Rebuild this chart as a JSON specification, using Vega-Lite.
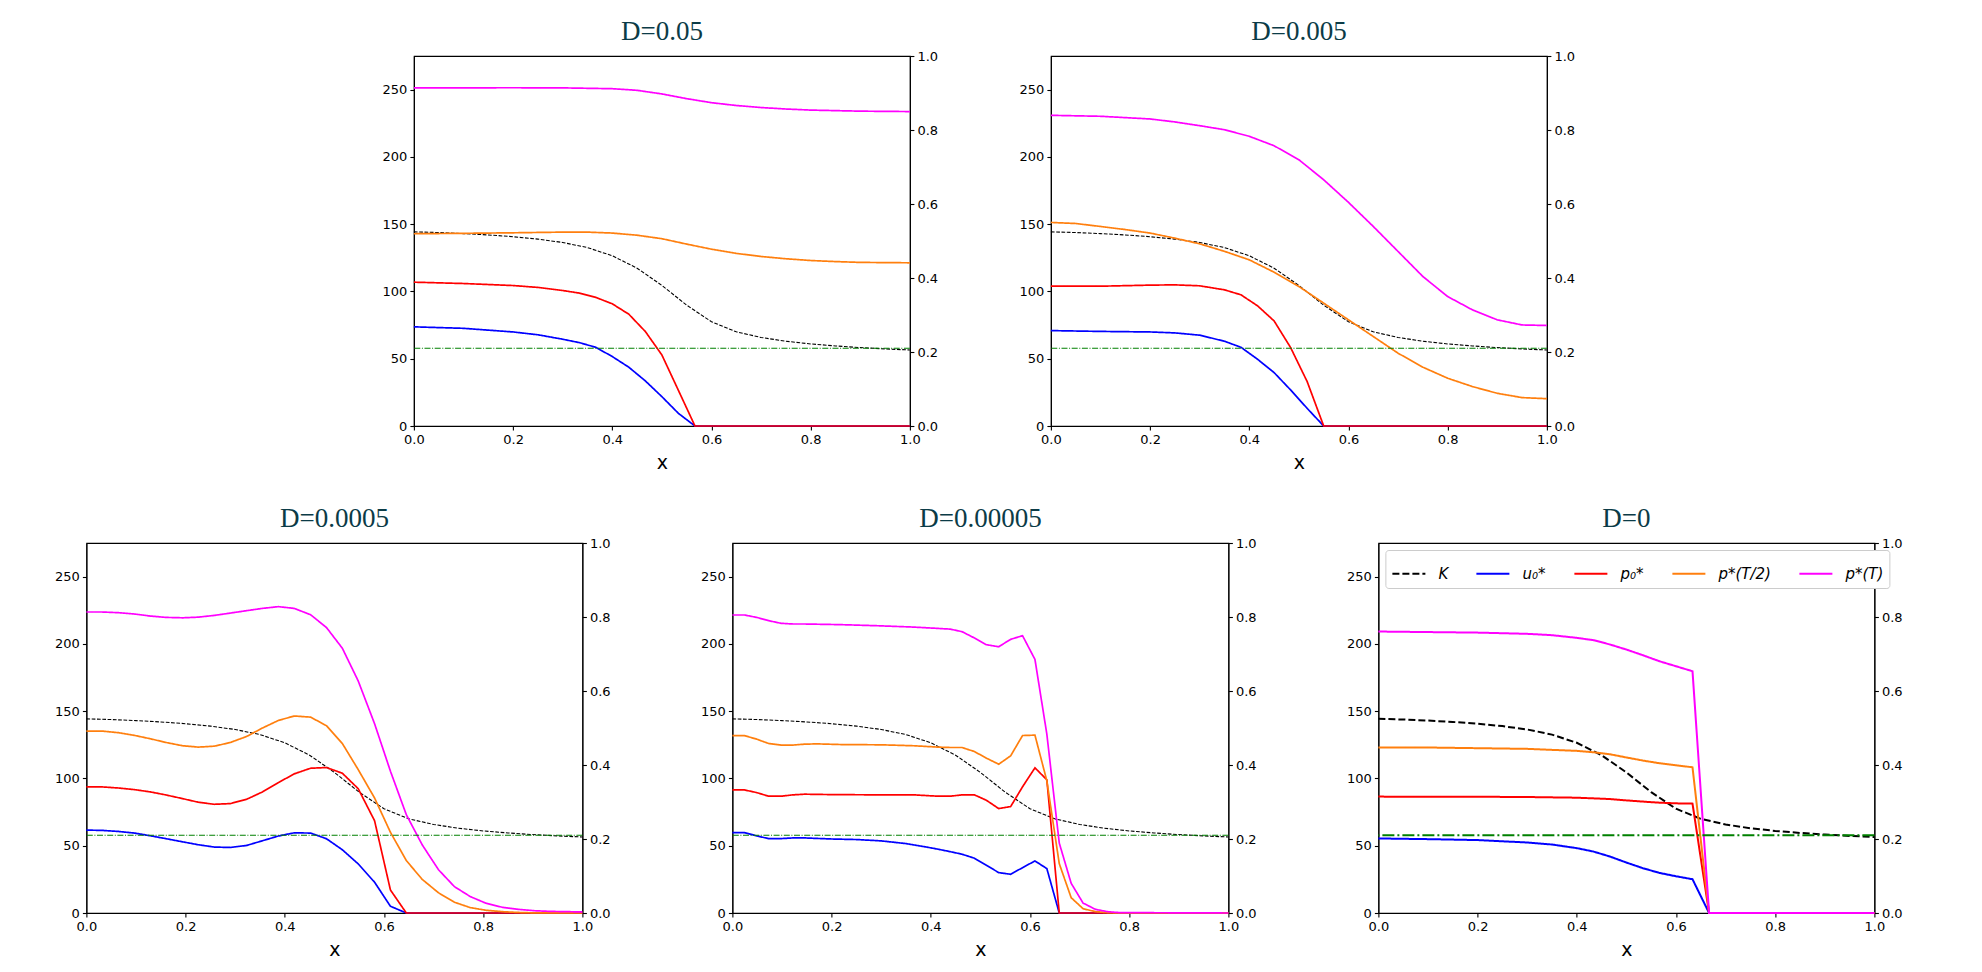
{
  "$schema": "https://vega.github.io/schema/vega-lite/v6.json",
  "background": "white",
  "padding": {"left": 54, "top": 17, "right": 5, "bottom": 5},
  "config": {
    "font": "DejaVu Sans",
    "view": {"stroke": "black", "strokeWidth": 1.1},
    "axis": {
      "grid": false, "domainColor": "black", "domainWidth": 1.1, "tickColor": "black", "tickWidth": 1.1,
      "tickSize": 4, "labelColor": "black", "labelFont": "DejaVu Sans", "labelFontSize": 13, "labelPadding": 3,
      "labelOverlap": false, "labelFlush": false, "titleFont": "DejaVu Sans", "titleFontSize": 19,
      "titleFontWeight": "normal", "titleColor": "black", "titlePadding": 7
    },
    "title": {"font": "Liberation Serif", "fontSize": 27, "fontWeight": "normal", "color": "#0b3b47", "offset": 4},
    "legend": {
      "orient": "top-left", "direction": "horizontal", "columns": 5, "symbolType": "stroke", "symbolSize": 1089,
      "symbolStrokeWidth": 2, "labelFont": "DejaVu Sans", "labelFontStyle": "italic", "labelFontSize": 15,
      "labelColor": "black", "labelOffset": 12, "columnPadding": 24, "padding": 6, "offset": 7,
      "strokeColor": "#cccccc", "fillColor": "white", "cornerRadius": 3
    }
  },
  "datasets": {
    "g": [{"v": 0.21}],
    "k": [
      {"s": "K", "x": 0, "y": 144.3}, {"s": "K", "x": 0.05, "y": 143.8}, {"s": "K", "x": 0.1, "y": 143.0},
      {"s": "K", "x": 0.15, "y": 142.0}, {"s": "K", "x": 0.2, "y": 140.7}, {"s": "K", "x": 0.25, "y": 138.9},
      {"s": "K", "x": 0.3, "y": 136.4}, {"s": "K", "x": 0.35, "y": 132.6}, {"s": "K", "x": 0.4, "y": 126.5},
      {"s": "K", "x": 0.45, "y": 117.3}, {"s": "K", "x": 0.5, "y": 104.5}, {"s": "K", "x": 0.55, "y": 89.8},
      {"s": "K", "x": 0.6, "y": 77.5}, {"s": "K", "x": 0.65, "y": 70.0}, {"s": "K", "x": 0.7, "y": 65.8},
      {"s": "K", "x": 0.75, "y": 63.0}, {"s": "K", "x": 0.8, "y": 61.0}, {"s": "K", "x": 0.85, "y": 59.5},
      {"s": "K", "x": 0.9, "y": 58.3}, {"s": "K", "x": 0.95, "y": 57.3}, {"s": "K", "x": 1.0, "y": 56.5}
    ],
    "c": [
      {"d": "D=0.05", "s": "u₀*", "x": 0, "y": 73.7}, {"d": "D=0.05", "s": "u₀*", "x": 0.1, "y": 72.6},
      {"d": "D=0.05", "s": "u₀*", "x": 0.2, "y": 69.9}, {"d": "D=0.05", "s": "u₀*", "x": 0.25, "y": 67.8},
      {"d": "D=0.05", "s": "u₀*", "x": 0.3, "y": 64.5}, {"d": "D=0.05", "s": "u₀*", "x": 0.3333, "y": 62.0},
      {"d": "D=0.05", "s": "u₀*", "x": 0.3667, "y": 58.5}, {"d": "D=0.05", "s": "u₀*", "x": 0.4, "y": 51.6},
      {"d": "D=0.05", "s": "u₀*", "x": 0.4333, "y": 43.7}, {"d": "D=0.05", "s": "u₀*", "x": 0.4667, "y": 33.5},
      {"d": "D=0.05", "s": "u₀*", "x": 0.5, "y": 21.8}, {"d": "D=0.05", "s": "u₀*", "x": 0.5333, "y": 9.4},
      {"d": "D=0.05", "s": "u₀*", "x": 0.5667, "y": 0}, {"d": "D=0.05", "s": "u₀*", "x": 1, "y": 0},
      {"d": "D=0.05", "s": "p₀*", "x": 0, "y": 106.9}, {"d": "D=0.05", "s": "p₀*", "x": 0.1, "y": 105.9},
      {"d": "D=0.05", "s": "p₀*", "x": 0.2, "y": 104.4}, {"d": "D=0.05", "s": "p₀*", "x": 0.25, "y": 103.0},
      {"d": "D=0.05", "s": "p₀*", "x": 0.3, "y": 100.7}, {"d": "D=0.05", "s": "p₀*", "x": 0.3333, "y": 98.8},
      {"d": "D=0.05", "s": "p₀*", "x": 0.3667, "y": 95.6}, {"d": "D=0.05", "s": "p₀*", "x": 0.4, "y": 90.8},
      {"d": "D=0.05", "s": "p₀*", "x": 0.4333, "y": 83.1}, {"d": "D=0.05", "s": "p₀*", "x": 0.4667, "y": 70.2},
      {"d": "D=0.05", "s": "p₀*", "x": 0.5, "y": 52.8}, {"d": "D=0.05", "s": "p₀*", "x": 0.5333, "y": 26.5},
      {"d": "D=0.05", "s": "p₀*", "x": 0.5667, "y": 0}, {"d": "D=0.05", "s": "p₀*", "x": 1, "y": 0},
      {"d": "D=0.05", "s": "p*(T/2)", "x": 0, "y": 142.9}, {"d": "D=0.05", "s": "p*(T/2)", "x": 0.1, "y": 143.2},
      {"d": "D=0.05", "s": "p*(T/2)", "x": 0.2, "y": 143.6}, {"d": "D=0.05", "s": "p*(T/2)", "x": 0.3, "y": 144.1},
      {"d": "D=0.05", "s": "p*(T/2)", "x": 0.35, "y": 144.1}, {"d": "D=0.05", "s": "p*(T/2)", "x": 0.4, "y": 143.4},
      {"d": "D=0.05", "s": "p*(T/2)", "x": 0.45, "y": 141.8}, {"d": "D=0.05", "s": "p*(T/2)", "x": 0.5, "y": 139.2},
      {"d": "D=0.05", "s": "p*(T/2)", "x": 0.55, "y": 135.2}, {"d": "D=0.05", "s": "p*(T/2)", "x": 0.6, "y": 131.4},
      {"d": "D=0.05", "s": "p*(T/2)", "x": 0.65, "y": 128.3}, {"d": "D=0.05", "s": "p*(T/2)", "x": 0.7, "y": 126.0},
      {"d": "D=0.05", "s": "p*(T/2)", "x": 0.75, "y": 124.3}, {"d": "D=0.05", "s": "p*(T/2)", "x": 0.8, "y": 123.0},
      {"d": "D=0.05", "s": "p*(T/2)", "x": 0.85, "y": 122.2}, {"d": "D=0.05", "s": "p*(T/2)", "x": 0.9, "y": 121.6},
      {"d": "D=0.05", "s": "p*(T/2)", "x": 1, "y": 121.3},
      {"d": "D=0.05", "s": "p*(T)", "x": 0, "y": 251.3}, {"d": "D=0.05", "s": "p*(T)", "x": 0.2, "y": 251.4},
      {"d": "D=0.05", "s": "p*(T)", "x": 0.3, "y": 251.3}, {"d": "D=0.05", "s": "p*(T)", "x": 0.4, "y": 250.7},
      {"d": "D=0.05", "s": "p*(T)", "x": 0.45, "y": 249.5}, {"d": "D=0.05", "s": "p*(T)", "x": 0.5, "y": 246.8},
      {"d": "D=0.05", "s": "p*(T)", "x": 0.55, "y": 243.3}, {"d": "D=0.05", "s": "p*(T)", "x": 0.6, "y": 240.3},
      {"d": "D=0.05", "s": "p*(T)", "x": 0.65, "y": 238.2}, {"d": "D=0.05", "s": "p*(T)", "x": 0.7, "y": 236.7},
      {"d": "D=0.05", "s": "p*(T)", "x": 0.75, "y": 235.6}, {"d": "D=0.05", "s": "p*(T)", "x": 0.8, "y": 234.8},
      {"d": "D=0.05", "s": "p*(T)", "x": 0.9, "y": 234.0}, {"d": "D=0.05", "s": "p*(T)", "x": 1, "y": 233.7},

      {"d": "D=0.005", "s": "u₀*", "x": 0, "y": 70.9}, {"d": "D=0.005", "s": "u₀*", "x": 0.1, "y": 70.3},
      {"d": "D=0.005", "s": "u₀*", "x": 0.2, "y": 69.9}, {"d": "D=0.005", "s": "u₀*", "x": 0.25, "y": 69.2},
      {"d": "D=0.005", "s": "u₀*", "x": 0.3, "y": 67.5}, {"d": "D=0.005", "s": "u₀*", "x": 0.35, "y": 63.0},
      {"d": "D=0.005", "s": "u₀*", "x": 0.3833, "y": 58.5}, {"d": "D=0.005", "s": "u₀*", "x": 0.4167, "y": 49.6},
      {"d": "D=0.005", "s": "u₀*", "x": 0.45, "y": 39.7}, {"d": "D=0.005", "s": "u₀*", "x": 0.4833, "y": 26.8},
      {"d": "D=0.005", "s": "u₀*", "x": 0.5167, "y": 13.1}, {"d": "D=0.005", "s": "u₀*", "x": 0.55, "y": 0},
      {"d": "D=0.005", "s": "u₀*", "x": 1, "y": 0},
      {"d": "D=0.005", "s": "p₀*", "x": 0, "y": 103.9}, {"d": "D=0.005", "s": "p₀*", "x": 0.1, "y": 103.9},
      {"d": "D=0.005", "s": "p₀*", "x": 0.2, "y": 104.7}, {"d": "D=0.005", "s": "p₀*", "x": 0.25, "y": 104.9},
      {"d": "D=0.005", "s": "p₀*", "x": 0.3, "y": 104.2}, {"d": "D=0.005", "s": "p₀*", "x": 0.35, "y": 101.2},
      {"d": "D=0.005", "s": "p₀*", "x": 0.3833, "y": 97.5}, {"d": "D=0.005", "s": "p₀*", "x": 0.4167, "y": 89.3},
      {"d": "D=0.005", "s": "p₀*", "x": 0.45, "y": 78.1}, {"d": "D=0.005", "s": "p₀*", "x": 0.4833, "y": 58.3},
      {"d": "D=0.005", "s": "p₀*", "x": 0.5167, "y": 33.0}, {"d": "D=0.005", "s": "p₀*", "x": 0.55, "y": 0},
      {"d": "D=0.005", "s": "p₀*", "x": 1, "y": 0},
      {"d": "D=0.005", "s": "p*(T/2)", "x": 0, "y": 151.3}, {"d": "D=0.005", "s": "p*(T/2)", "x": 0.05, "y": 150.5},
      {"d": "D=0.005", "s": "p*(T/2)", "x": 0.1, "y": 148.3}, {"d": "D=0.005", "s": "p*(T/2)", "x": 0.15, "y": 146.0},
      {"d": "D=0.005", "s": "p*(T/2)", "x": 0.2, "y": 143.4}, {"d": "D=0.005", "s": "p*(T/2)", "x": 0.25, "y": 139.6},
      {"d": "D=0.005", "s": "p*(T/2)", "x": 0.3, "y": 135.4}, {"d": "D=0.005", "s": "p*(T/2)", "x": 0.35, "y": 129.8},
      {"d": "D=0.005", "s": "p*(T/2)", "x": 0.4, "y": 123.5}, {"d": "D=0.005", "s": "p*(T/2)", "x": 0.45, "y": 114.3},
      {"d": "D=0.005", "s": "p*(T/2)", "x": 0.5, "y": 103.7}, {"d": "D=0.005", "s": "p*(T/2)", "x": 0.55, "y": 91.3},
      {"d": "D=0.005", "s": "p*(T/2)", "x": 0.6, "y": 78.9}, {"d": "D=0.005", "s": "p*(T/2)", "x": 0.65, "y": 66.5},
      {"d": "D=0.005", "s": "p*(T/2)", "x": 0.7, "y": 54.1}, {"d": "D=0.005", "s": "p*(T/2)", "x": 0.75, "y": 43.7},
      {"d": "D=0.005", "s": "p*(T/2)", "x": 0.8, "y": 35.5}, {"d": "D=0.005", "s": "p*(T/2)", "x": 0.85, "y": 29.3},
      {"d": "D=0.005", "s": "p*(T/2)", "x": 0.9, "y": 24.3}, {"d": "D=0.005", "s": "p*(T/2)", "x": 0.95, "y": 21.1},
      {"d": "D=0.005", "s": "p*(T/2)", "x": 1, "y": 20.3},
      {"d": "D=0.005", "s": "p*(T)", "x": 0, "y": 230.9}, {"d": "D=0.005", "s": "p*(T)", "x": 0.1, "y": 230.2},
      {"d": "D=0.005", "s": "p*(T)", "x": 0.2, "y": 228.2}, {"d": "D=0.005", "s": "p*(T)", "x": 0.25, "y": 226.0},
      {"d": "D=0.005", "s": "p*(T)", "x": 0.3, "y": 223.2}, {"d": "D=0.005", "s": "p*(T)", "x": 0.35, "y": 220.2},
      {"d": "D=0.005", "s": "p*(T)", "x": 0.4, "y": 215.3}, {"d": "D=0.005", "s": "p*(T)", "x": 0.45, "y": 208.3},
      {"d": "D=0.005", "s": "p*(T)", "x": 0.5, "y": 197.9}, {"d": "D=0.005", "s": "p*(T)", "x": 0.55, "y": 183.0},
      {"d": "D=0.005", "s": "p*(T)", "x": 0.6, "y": 166.2}, {"d": "D=0.005", "s": "p*(T)", "x": 0.65, "y": 148.3},
      {"d": "D=0.005", "s": "p*(T)", "x": 0.7, "y": 129.7}, {"d": "D=0.005", "s": "p*(T)", "x": 0.75, "y": 111.1},
      {"d": "D=0.005", "s": "p*(T)", "x": 0.8, "y": 96.2}, {"d": "D=0.005", "s": "p*(T)", "x": 0.85, "y": 86.3},
      {"d": "D=0.005", "s": "p*(T)", "x": 0.9, "y": 78.9}, {"d": "D=0.005", "s": "p*(T)", "x": 0.95, "y": 75.1},
      {"d": "D=0.005", "s": "p*(T)", "x": 1, "y": 74.7},

      {"d": "D=0.0005", "s": "u₀*", "x": 0, "y": 61.6}, {"d": "D=0.0005", "s": "u₀*", "x": 0.032, "y": 61.4},
      {"d": "D=0.0005", "s": "u₀*", "x": 0.065, "y": 60.6}, {"d": "D=0.0005", "s": "u₀*", "x": 0.097, "y": 59.4},
      {"d": "D=0.0005", "s": "u₀*", "x": 0.129, "y": 57.4}, {"d": "D=0.0005", "s": "u₀*", "x": 0.161, "y": 55.2},
      {"d": "D=0.0005", "s": "u₀*", "x": 0.194, "y": 52.9}, {"d": "D=0.0005", "s": "u₀*", "x": 0.226, "y": 50.7},
      {"d": "D=0.0005", "s": "u₀*", "x": 0.258, "y": 49.0}, {"d": "D=0.0005", "s": "u₀*", "x": 0.29, "y": 48.7},
      {"d": "D=0.0005", "s": "u₀*", "x": 0.323, "y": 50.2}, {"d": "D=0.0005", "s": "u₀*", "x": 0.355, "y": 53.7},
      {"d": "D=0.0005", "s": "u₀*", "x": 0.387, "y": 57.2}, {"d": "D=0.0005", "s": "u₀*", "x": 0.419, "y": 59.6},
      {"d": "D=0.0005", "s": "u₀*", "x": 0.452, "y": 59.4}, {"d": "D=0.0005", "s": "u₀*", "x": 0.484, "y": 55.2},
      {"d": "D=0.0005", "s": "u₀*", "x": 0.516, "y": 47.0}, {"d": "D=0.0005", "s": "u₀*", "x": 0.548, "y": 36.5},
      {"d": "D=0.0005", "s": "u₀*", "x": 0.581, "y": 22.9}, {"d": "D=0.0005", "s": "u₀*", "x": 0.613, "y": 5.0},
      {"d": "D=0.0005", "s": "u₀*", "x": 0.645, "y": 0}, {"d": "D=0.0005", "s": "u₀*", "x": 1, "y": 0},
      {"d": "D=0.0005", "s": "p₀*", "x": 0, "y": 93.7}, {"d": "D=0.0005", "s": "p₀*", "x": 0.032, "y": 93.7},
      {"d": "D=0.0005", "s": "p₀*", "x": 0.065, "y": 92.9}, {"d": "D=0.0005", "s": "p₀*", "x": 0.097, "y": 91.7},
      {"d": "D=0.0005", "s": "p₀*", "x": 0.129, "y": 90.0}, {"d": "D=0.0005", "s": "p₀*", "x": 0.161, "y": 87.7},
      {"d": "D=0.0005", "s": "p₀*", "x": 0.194, "y": 85.0}, {"d": "D=0.0005", "s": "p₀*", "x": 0.226, "y": 82.3},
      {"d": "D=0.0005", "s": "p₀*", "x": 0.258, "y": 80.8}, {"d": "D=0.0005", "s": "p₀*", "x": 0.29, "y": 81.3},
      {"d": "D=0.0005", "s": "p₀*", "x": 0.323, "y": 84.5}, {"d": "D=0.0005", "s": "p₀*", "x": 0.355, "y": 90.0},
      {"d": "D=0.0005", "s": "p₀*", "x": 0.387, "y": 96.9}, {"d": "D=0.0005", "s": "p₀*", "x": 0.419, "y": 103.4},
      {"d": "D=0.0005", "s": "p₀*", "x": 0.452, "y": 107.6}, {"d": "D=0.0005", "s": "p₀*", "x": 0.484, "y": 108.1},
      {"d": "D=0.0005", "s": "p₀*", "x": 0.516, "y": 103.9}, {"d": "D=0.0005", "s": "p₀*", "x": 0.548, "y": 92.4},
      {"d": "D=0.0005", "s": "p₀*", "x": 0.581, "y": 68.6}, {"d": "D=0.0005", "s": "p₀*", "x": 0.613, "y": 17.1},
      {"d": "D=0.0005", "s": "p₀*", "x": 0.645, "y": 0}, {"d": "D=0.0005", "s": "p₀*", "x": 1, "y": 0},
      {"d": "D=0.0005", "s": "p*(T/2)", "x": 0, "y": 135.2}, {"d": "D=0.0005", "s": "p*(T/2)", "x": 0.032, "y": 135.2},
      {"d": "D=0.0005", "s": "p*(T/2)", "x": 0.065, "y": 134.0}, {"d": "D=0.0005", "s": "p*(T/2)", "x": 0.097, "y": 132.0},
      {"d": "D=0.0005", "s": "p*(T/2)", "x": 0.129, "y": 129.5}, {"d": "D=0.0005", "s": "p*(T/2)", "x": 0.161, "y": 126.7},
      {"d": "D=0.0005", "s": "p*(T/2)", "x": 0.194, "y": 124.3}, {"d": "D=0.0005", "s": "p*(T/2)", "x": 0.226, "y": 123.3},
      {"d": "D=0.0005", "s": "p*(T/2)", "x": 0.258, "y": 124.0}, {"d": "D=0.0005", "s": "p*(T/2)", "x": 0.29, "y": 126.7},
      {"d": "D=0.0005", "s": "p*(T/2)", "x": 0.323, "y": 131.2}, {"d": "D=0.0005", "s": "p*(T/2)", "x": 0.355, "y": 137.5},
      {"d": "D=0.0005", "s": "p*(T/2)", "x": 0.387, "y": 143.1}, {"d": "D=0.0005", "s": "p*(T/2)", "x": 0.419, "y": 146.4},
      {"d": "D=0.0005", "s": "p*(T/2)", "x": 0.452, "y": 145.6}, {"d": "D=0.0005", "s": "p*(T/2)", "x": 0.484, "y": 139.2},
      {"d": "D=0.0005", "s": "p*(T/2)", "x": 0.516, "y": 126.0}, {"d": "D=0.0005", "s": "p*(T/2)", "x": 0.548, "y": 106.6},
      {"d": "D=0.0005", "s": "p*(T/2)", "x": 0.581, "y": 85.5}, {"d": "D=0.0005", "s": "p*(T/2)", "x": 0.613, "y": 60.0},
      {"d": "D=0.0005", "s": "p*(T/2)", "x": 0.645, "y": 39.0}, {"d": "D=0.0005", "s": "p*(T/2)", "x": 0.677, "y": 25.0},
      {"d": "D=0.0005", "s": "p*(T/2)", "x": 0.71, "y": 15.0}, {"d": "D=0.0005", "s": "p*(T/2)", "x": 0.742, "y": 8.0},
      {"d": "D=0.0005", "s": "p*(T/2)", "x": 0.774, "y": 4.0}, {"d": "D=0.0005", "s": "p*(T/2)", "x": 0.806, "y": 2.0},
      {"d": "D=0.0005", "s": "p*(T/2)", "x": 0.839, "y": 1.0}, {"d": "D=0.0005", "s": "p*(T/2)", "x": 0.871, "y": 0.4},
      {"d": "D=0.0005", "s": "p*(T/2)", "x": 0.903, "y": 0.1}, {"d": "D=0.0005", "s": "p*(T/2)", "x": 1, "y": 0},
      {"d": "D=0.0005", "s": "p*(T)", "x": 0, "y": 223.7}, {"d": "D=0.0005", "s": "p*(T)", "x": 0.032, "y": 223.7},
      {"d": "D=0.0005", "s": "p*(T)", "x": 0.065, "y": 223.2}, {"d": "D=0.0005", "s": "p*(T)", "x": 0.097, "y": 222.2},
      {"d": "D=0.0005", "s": "p*(T)", "x": 0.129, "y": 220.7}, {"d": "D=0.0005", "s": "p*(T)", "x": 0.161, "y": 219.7},
      {"d": "D=0.0005", "s": "p*(T)", "x": 0.194, "y": 219.4}, {"d": "D=0.0005", "s": "p*(T)", "x": 0.226, "y": 219.9},
      {"d": "D=0.0005", "s": "p*(T)", "x": 0.258, "y": 221.2}, {"d": "D=0.0005", "s": "p*(T)", "x": 0.29, "y": 222.9},
      {"d": "D=0.0005", "s": "p*(T)", "x": 0.323, "y": 224.7}, {"d": "D=0.0005", "s": "p*(T)", "x": 0.355, "y": 226.4},
      {"d": "D=0.0005", "s": "p*(T)", "x": 0.387, "y": 227.7}, {"d": "D=0.0005", "s": "p*(T)", "x": 0.419, "y": 226.4},
      {"d": "D=0.0005", "s": "p*(T)", "x": 0.452, "y": 221.7}, {"d": "D=0.0005", "s": "p*(T)", "x": 0.484, "y": 212.2},
      {"d": "D=0.0005", "s": "p*(T)", "x": 0.516, "y": 196.8}, {"d": "D=0.0005", "s": "p*(T)", "x": 0.548, "y": 172.5},
      {"d": "D=0.0005", "s": "p*(T)", "x": 0.581, "y": 140.7}, {"d": "D=0.0005", "s": "p*(T)", "x": 0.613, "y": 105.4},
      {"d": "D=0.0005", "s": "p*(T)", "x": 0.645, "y": 73.1}, {"d": "D=0.0005", "s": "p*(T)", "x": 0.677, "y": 50.7},
      {"d": "D=0.0005", "s": "p*(T)", "x": 0.71, "y": 32.1}, {"d": "D=0.0005", "s": "p*(T)", "x": 0.742, "y": 19.6},
      {"d": "D=0.0005", "s": "p*(T)", "x": 0.774, "y": 12.2}, {"d": "D=0.0005", "s": "p*(T)", "x": 0.806, "y": 7.2},
      {"d": "D=0.0005", "s": "p*(T)", "x": 0.839, "y": 4.2}, {"d": "D=0.0005", "s": "p*(T)", "x": 0.871, "y": 2.7},
      {"d": "D=0.0005", "s": "p*(T)", "x": 0.903, "y": 1.7}, {"d": "D=0.0005", "s": "p*(T)", "x": 0.935, "y": 1.2},
      {"d": "D=0.0005", "s": "p*(T)", "x": 0.968, "y": 1.0}, {"d": "D=0.0005", "s": "p*(T)", "x": 1, "y": 0.8},

      {"d": "D=0.00005", "s": "u₀*", "x": 0, "y": 59.8}, {"d": "D=0.00005", "s": "u₀*", "x": 0.024, "y": 59.8},
      {"d": "D=0.00005", "s": "u₀*", "x": 0.049, "y": 57.3}, {"d": "D=0.00005", "s": "u₀*", "x": 0.073, "y": 55.3},
      {"d": "D=0.00005", "s": "u₀*", "x": 0.098, "y": 55.3}, {"d": "D=0.00005", "s": "u₀*", "x": 0.122, "y": 55.8},
      {"d": "D=0.00005", "s": "u₀*", "x": 0.146, "y": 55.8}, {"d": "D=0.00005", "s": "u₀*", "x": 0.2, "y": 55.0},
      {"d": "D=0.00005", "s": "u₀*", "x": 0.25, "y": 54.6}, {"d": "D=0.00005", "s": "u₀*", "x": 0.3, "y": 53.6},
      {"d": "D=0.00005", "s": "u₀*", "x": 0.35, "y": 51.6}, {"d": "D=0.00005", "s": "u₀*", "x": 0.39, "y": 49.1},
      {"d": "D=0.00005", "s": "u₀*", "x": 0.415, "y": 47.4}, {"d": "D=0.00005", "s": "u₀*", "x": 0.439, "y": 45.6},
      {"d": "D=0.00005", "s": "u₀*", "x": 0.463, "y": 43.7}, {"d": "D=0.00005", "s": "u₀*", "x": 0.488, "y": 40.7},
      {"d": "D=0.00005", "s": "u₀*", "x": 0.512, "y": 35.5}, {"d": "D=0.00005", "s": "u₀*", "x": 0.537, "y": 30.0},
      {"d": "D=0.00005", "s": "u₀*", "x": 0.561, "y": 28.8}, {"d": "D=0.00005", "s": "u₀*", "x": 0.585, "y": 33.7},
      {"d": "D=0.00005", "s": "u₀*", "x": 0.61, "y": 38.7}, {"d": "D=0.00005", "s": "u₀*", "x": 0.634, "y": 33.0},
      {"d": "D=0.00005", "s": "u₀*", "x": 0.659, "y": 0}, {"d": "D=0.00005", "s": "u₀*", "x": 1, "y": 0},
      {"d": "D=0.00005", "s": "p₀*", "x": 0, "y": 91.5}, {"d": "D=0.00005", "s": "p₀*", "x": 0.024, "y": 91.5},
      {"d": "D=0.00005", "s": "p₀*", "x": 0.049, "y": 89.5}, {"d": "D=0.00005", "s": "p₀*", "x": 0.073, "y": 86.8},
      {"d": "D=0.00005", "s": "p₀*", "x": 0.098, "y": 86.8}, {"d": "D=0.00005", "s": "p₀*", "x": 0.122, "y": 87.8},
      {"d": "D=0.00005", "s": "p₀*", "x": 0.146, "y": 88.3}, {"d": "D=0.00005", "s": "p₀*", "x": 0.2, "y": 88.0},
      {"d": "D=0.00005", "s": "p₀*", "x": 0.3, "y": 87.8}, {"d": "D=0.00005", "s": "p₀*", "x": 0.366, "y": 87.8},
      {"d": "D=0.00005", "s": "p₀*", "x": 0.415, "y": 86.8}, {"d": "D=0.00005", "s": "p₀*", "x": 0.439, "y": 86.8},
      {"d": "D=0.00005", "s": "p₀*", "x": 0.463, "y": 87.8}, {"d": "D=0.00005", "s": "p₀*", "x": 0.488, "y": 87.8},
      {"d": "D=0.00005", "s": "p₀*", "x": 0.512, "y": 83.8}, {"d": "D=0.00005", "s": "p₀*", "x": 0.537, "y": 77.6},
      {"d": "D=0.00005", "s": "p₀*", "x": 0.561, "y": 79.1}, {"d": "D=0.00005", "s": "p₀*", "x": 0.585, "y": 93.8},
      {"d": "D=0.00005", "s": "p₀*", "x": 0.61, "y": 107.9}, {"d": "D=0.00005", "s": "p₀*", "x": 0.634, "y": 99.0},
      {"d": "D=0.00005", "s": "p₀*", "x": 0.659, "y": 0}, {"d": "D=0.00005", "s": "p₀*", "x": 1, "y": 0},
      {"d": "D=0.00005", "s": "p*(T/2)", "x": 0, "y": 131.9}, {"d": "D=0.00005", "s": "p*(T/2)", "x": 0.024, "y": 131.9},
      {"d": "D=0.00005", "s": "p*(T/2)", "x": 0.049, "y": 129.2}, {"d": "D=0.00005", "s": "p*(T/2)", "x": 0.073, "y": 126.0},
      {"d": "D=0.00005", "s": "p*(T/2)", "x": 0.098, "y": 124.8}, {"d": "D=0.00005", "s": "p*(T/2)", "x": 0.122, "y": 124.8},
      {"d": "D=0.00005", "s": "p*(T/2)", "x": 0.146, "y": 125.5}, {"d": "D=0.00005", "s": "p*(T/2)", "x": 0.171, "y": 125.7},
      {"d": "D=0.00005", "s": "p*(T/2)", "x": 0.22, "y": 125.2}, {"d": "D=0.00005", "s": "p*(T/2)", "x": 0.3, "y": 125.0},
      {"d": "D=0.00005", "s": "p*(T/2)", "x": 0.366, "y": 124.3}, {"d": "D=0.00005", "s": "p*(T/2)", "x": 0.39, "y": 123.8},
      {"d": "D=0.00005", "s": "p*(T/2)", "x": 0.415, "y": 123.3}, {"d": "D=0.00005", "s": "p*(T/2)", "x": 0.439, "y": 123.0},
      {"d": "D=0.00005", "s": "p*(T/2)", "x": 0.463, "y": 123.0}, {"d": "D=0.00005", "s": "p*(T/2)", "x": 0.488, "y": 120.0},
      {"d": "D=0.00005", "s": "p*(T/2)", "x": 0.512, "y": 115.1}, {"d": "D=0.00005", "s": "p*(T/2)", "x": 0.537, "y": 110.6},
      {"d": "D=0.00005", "s": "p*(T/2)", "x": 0.561, "y": 116.8}, {"d": "D=0.00005", "s": "p*(T/2)", "x": 0.585, "y": 131.9},
      {"d": "D=0.00005", "s": "p*(T/2)", "x": 0.61, "y": 132.2}, {"d": "D=0.00005", "s": "p*(T/2)", "x": 0.634, "y": 98.2},
      {"d": "D=0.00005", "s": "p*(T/2)", "x": 0.659, "y": 36.7}, {"d": "D=0.00005", "s": "p*(T/2)", "x": 0.683, "y": 11.4},
      {"d": "D=0.00005", "s": "p*(T/2)", "x": 0.707, "y": 3.2}, {"d": "D=0.00005", "s": "p*(T/2)", "x": 0.732, "y": 1.0},
      {"d": "D=0.00005", "s": "p*(T/2)", "x": 0.756, "y": 0.3}, {"d": "D=0.00005", "s": "p*(T/2)", "x": 0.78, "y": 0},
      {"d": "D=0.00005", "s": "p*(T/2)", "x": 1, "y": 0},
      {"d": "D=0.00005", "s": "p*(T)", "x": 0, "y": 221.5}, {"d": "D=0.00005", "s": "p*(T)", "x": 0.024, "y": 221.5},
      {"d": "D=0.00005", "s": "p*(T)", "x": 0.049, "y": 219.7}, {"d": "D=0.00005", "s": "p*(T)", "x": 0.073, "y": 217.3},
      {"d": "D=0.00005", "s": "p*(T)", "x": 0.098, "y": 215.3}, {"d": "D=0.00005", "s": "p*(T)", "x": 0.122, "y": 214.8},
      {"d": "D=0.00005", "s": "p*(T)", "x": 0.146, "y": 214.8}, {"d": "D=0.00005", "s": "p*(T)", "x": 0.22, "y": 214.3},
      {"d": "D=0.00005", "s": "p*(T)", "x": 0.293, "y": 213.5}, {"d": "D=0.00005", "s": "p*(T)", "x": 0.366, "y": 212.5},
      {"d": "D=0.00005", "s": "p*(T)", "x": 0.415, "y": 211.5}, {"d": "D=0.00005", "s": "p*(T)", "x": 0.439, "y": 211.0},
      {"d": "D=0.00005", "s": "p*(T)", "x": 0.463, "y": 209.1}, {"d": "D=0.00005", "s": "p*(T)", "x": 0.488, "y": 204.4},
      {"d": "D=0.00005", "s": "p*(T)", "x": 0.512, "y": 199.4}, {"d": "D=0.00005", "s": "p*(T)", "x": 0.537, "y": 197.9},
      {"d": "D=0.00005", "s": "p*(T)", "x": 0.561, "y": 203.4}, {"d": "D=0.00005", "s": "p*(T)", "x": 0.585, "y": 206.1},
      {"d": "D=0.00005", "s": "p*(T)", "x": 0.61, "y": 188.5}, {"d": "D=0.00005", "s": "p*(T)", "x": 0.634, "y": 132.9},
      {"d": "D=0.00005", "s": "p*(T)", "x": 0.659, "y": 52.0}, {"d": "D=0.00005", "s": "p*(T)", "x": 0.683, "y": 22.1},
      {"d": "D=0.00005", "s": "p*(T)", "x": 0.707, "y": 7.4}, {"d": "D=0.00005", "s": "p*(T)", "x": 0.732, "y": 2.7},
      {"d": "D=0.00005", "s": "p*(T)", "x": 0.756, "y": 1.0}, {"d": "D=0.00005", "s": "p*(T)", "x": 0.78, "y": 0.3},
      {"d": "D=0.00005", "s": "p*(T)", "x": 1, "y": 0},

      {"d": "D=0", "s": "u₀*", "x": 0, "y": 55.4}, {"d": "D=0", "s": "u₀*", "x": 0.1, "y": 54.9},
      {"d": "D=0", "s": "u₀*", "x": 0.2, "y": 54.2}, {"d": "D=0", "s": "u₀*", "x": 0.3, "y": 52.4},
      {"d": "D=0", "s": "u₀*", "x": 0.35, "y": 50.9}, {"d": "D=0", "s": "u₀*", "x": 0.4, "y": 48.2},
      {"d": "D=0", "s": "u₀*", "x": 0.4333, "y": 45.7}, {"d": "D=0", "s": "u₀*", "x": 0.4667, "y": 42.0},
      {"d": "D=0", "s": "u₀*", "x": 0.5, "y": 37.5}, {"d": "D=0", "s": "u₀*", "x": 0.5333, "y": 33.3},
      {"d": "D=0", "s": "u₀*", "x": 0.5667, "y": 29.8}, {"d": "D=0", "s": "u₀*", "x": 0.6, "y": 27.3},
      {"d": "D=0", "s": "u₀*", "x": 0.6333, "y": 25.1}, {"d": "D=0", "s": "u₀*", "x": 0.6667, "y": 0},
      {"d": "D=0", "s": "u₀*", "x": 1, "y": 0},
      {"d": "D=0", "s": "p₀*", "x": 0, "y": 86.5}, {"d": "D=0", "s": "p₀*", "x": 0.2, "y": 86.4},
      {"d": "D=0", "s": "p₀*", "x": 0.3, "y": 86.2}, {"d": "D=0", "s": "p₀*", "x": 0.4, "y": 85.7},
      {"d": "D=0", "s": "p₀*", "x": 0.4667, "y": 84.7}, {"d": "D=0", "s": "p₀*", "x": 0.5, "y": 83.7},
      {"d": "D=0", "s": "p₀*", "x": 0.5333, "y": 82.8}, {"d": "D=0", "s": "p₀*", "x": 0.5667, "y": 82.0},
      {"d": "D=0", "s": "p₀*", "x": 0.6, "y": 81.5}, {"d": "D=0", "s": "p₀*", "x": 0.6333, "y": 81.3},
      {"d": "D=0", "s": "p₀*", "x": 0.6667, "y": 0}, {"d": "D=0", "s": "p₀*", "x": 1, "y": 0},
      {"d": "D=0", "s": "p*(T/2)", "x": 0, "y": 123.0}, {"d": "D=0", "s": "p*(T/2)", "x": 0.1, "y": 123.0},
      {"d": "D=0", "s": "p*(T/2)", "x": 0.2, "y": 122.5}, {"d": "D=0", "s": "p*(T/2)", "x": 0.3, "y": 122.0},
      {"d": "D=0", "s": "p*(T/2)", "x": 0.4, "y": 120.5}, {"d": "D=0", "s": "p*(T/2)", "x": 0.4333, "y": 119.5},
      {"d": "D=0", "s": "p*(T/2)", "x": 0.4667, "y": 118.0}, {"d": "D=0", "s": "p*(T/2)", "x": 0.5, "y": 115.6},
      {"d": "D=0", "s": "p*(T/2)", "x": 0.5333, "y": 113.3}, {"d": "D=0", "s": "p*(T/2)", "x": 0.5667, "y": 111.3},
      {"d": "D=0", "s": "p*(T/2)", "x": 0.6, "y": 109.8}, {"d": "D=0", "s": "p*(T/2)", "x": 0.6333, "y": 108.3},
      {"d": "D=0", "s": "p*(T/2)", "x": 0.6667, "y": 0}, {"d": "D=0", "s": "p*(T/2)", "x": 1, "y": 0},
      {"d": "D=0", "s": "p*(T)", "x": 0, "y": 209.2}, {"d": "D=0", "s": "p*(T)", "x": 0.1, "y": 208.8},
      {"d": "D=0", "s": "p*(T)", "x": 0.2, "y": 208.4}, {"d": "D=0", "s": "p*(T)", "x": 0.3, "y": 207.5},
      {"d": "D=0", "s": "p*(T)", "x": 0.35, "y": 206.5}, {"d": "D=0", "s": "p*(T)", "x": 0.4, "y": 204.5},
      {"d": "D=0", "s": "p*(T)", "x": 0.4333, "y": 202.8}, {"d": "D=0", "s": "p*(T)", "x": 0.4667, "y": 199.6},
      {"d": "D=0", "s": "p*(T)", "x": 0.5, "y": 195.8}, {"d": "D=0", "s": "p*(T)", "x": 0.5333, "y": 191.6},
      {"d": "D=0", "s": "p*(T)", "x": 0.5667, "y": 187.1}, {"d": "D=0", "s": "p*(T)", "x": 0.6, "y": 183.4},
      {"d": "D=0", "s": "p*(T)", "x": 0.6333, "y": 179.7}, {"d": "D=0", "s": "p*(T)", "x": 0.6667, "y": 0},
      {"d": "D=0", "s": "p*(T)", "x": 1, "y": 0}
    ]
  },
  "vconcat": [
    {
      "hconcat": [
        {
          "title": "D=0.05", "width": 496, "height": 370,
          "layer": [
            {"layer": [
              {"data": {"name": "k"}, "mark": {"type": "line", "strokeWidth": 1.1},
               "encoding": {
                 "x": {"field": "x", "type": "quantitative", "scale": {"domain": [0, 1], "nice": false}, "axis": {"title": "x", "values": [0, 0.2, 0.4, 0.6, 0.8, 1], "format": ".1f"}},
                 "y": {"field": "y", "type": "quantitative", "scale": {"domain": [0, 275], "nice": false}, "axis": {"title": null, "values": [0, 50, 100, 150, 200, 250]}},
                 "color": {"field": "s", "type": "nominal", "scale": {"domain": ["K", "u₀*", "p₀*", "p*(T/2)", "p*(T)"], "range": ["black", "#0000ff", "#ff0000", "#ff7f0e", "#ff00ff"]}, "legend": null},
                 "strokeDash": {"field": "s", "type": "nominal", "scale": {"domain": ["K", "u₀*", "p₀*", "p*(T/2)", "p*(T)"], "range": [[3.7, 1.6], [1, 0], [1, 0], [1, 0], [1, 0]]}, "legend": null}
               }},
              {"data": {"name": "c"}, "transform": [{"filter": "datum.d === 'D=0.05'"}], "mark": {"type": "line", "strokeWidth": 1.7},
               "encoding": {
                 "x": {"field": "x", "type": "quantitative", "scale": {"domain": [0, 1], "nice": false}, "axis": {"title": "x", "values": [0, 0.2, 0.4, 0.6, 0.8, 1], "format": ".1f"}},
                 "y": {"field": "y", "type": "quantitative", "scale": {"domain": [0, 275], "nice": false}, "axis": {"title": null, "values": [0, 50, 100, 150, 200, 250]}},
                 "color": {"field": "s", "type": "nominal", "legend": null},
                 "strokeDash": {"field": "s", "type": "nominal", "legend": null}
               }}
            ]},
            {"data": {"name": "g"}, "mark": {"type": "rule", "color": "#008000", "strokeWidth": 1.1, "strokeDash": [6, 1.6, 1, 1.6]},
             "encoding": {"y": {"field": "v", "type": "quantitative", "scale": {"domain": [0, 1], "nice": false}, "axis": {"orient": "right", "title": null, "values": [0, 0.2, 0.4, 0.6, 0.8, 1], "format": ".1f"}}}}
          ],
          "resolve": {"scale": {"y": "independent"}}
        },
        {
          "title": "D=0.005", "width": 496, "height": 370,
          "layer": [
            {"layer": [
              {"data": {"name": "k"}, "mark": {"type": "line", "strokeWidth": 1.1},
               "encoding": {
                 "x": {"field": "x", "type": "quantitative", "scale": {"domain": [0, 1], "nice": false}, "axis": {"title": "x", "values": [0, 0.2, 0.4, 0.6, 0.8, 1], "format": ".1f"}},
                 "y": {"field": "y", "type": "quantitative", "scale": {"domain": [0, 275], "nice": false}, "axis": {"title": null, "values": [0, 50, 100, 150, 200, 250]}},
                 "color": {"field": "s", "type": "nominal", "scale": {"domain": ["K", "u₀*", "p₀*", "p*(T/2)", "p*(T)"], "range": ["black", "#0000ff", "#ff0000", "#ff7f0e", "#ff00ff"]}, "legend": null},
                 "strokeDash": {"field": "s", "type": "nominal", "scale": {"domain": ["K", "u₀*", "p₀*", "p*(T/2)", "p*(T)"], "range": [[3.7, 1.6], [1, 0], [1, 0], [1, 0], [1, 0]]}, "legend": null}
               }},
              {"data": {"name": "c"}, "transform": [{"filter": "datum.d === 'D=0.005'"}], "mark": {"type": "line", "strokeWidth": 1.7},
               "encoding": {
                 "x": {"field": "x", "type": "quantitative", "scale": {"domain": [0, 1], "nice": false}, "axis": {"title": "x", "values": [0, 0.2, 0.4, 0.6, 0.8, 1], "format": ".1f"}},
                 "y": {"field": "y", "type": "quantitative", "scale": {"domain": [0, 275], "nice": false}, "axis": {"title": null, "values": [0, 50, 100, 150, 200, 250]}},
                 "color": {"field": "s", "type": "nominal", "legend": null},
                 "strokeDash": {"field": "s", "type": "nominal", "legend": null}
               }}
            ]},
            {"data": {"name": "g"}, "mark": {"type": "rule", "color": "#008000", "strokeWidth": 1.1, "strokeDash": [6, 1.6, 1, 1.6]},
             "encoding": {"y": {"field": "v", "type": "quantitative", "scale": {"domain": [0, 1], "nice": false}, "axis": {"orient": "right", "title": null, "values": [0, 0.2, 0.4, 0.6, 0.8, 1], "format": ".1f"}}}}
          ],
          "resolve": {"scale": {"y": "independent"}}
        }
      ],
      "spacing": 141, "bounds": "flush",
      "resolve": {"scale": {"x": "independent", "y": "independent", "color": "independent", "strokeDash": "independent"}}
    },
    {
      "hconcat": [
        {
          "title": "D=0.0005", "width": 496, "height": 370,
          "layer": [
            {"layer": [
              {"data": {"name": "k"}, "mark": {"type": "line", "strokeWidth": 1.1},
               "encoding": {
                 "x": {"field": "x", "type": "quantitative", "scale": {"domain": [0, 1], "nice": false}, "axis": {"title": "x", "values": [0, 0.2, 0.4, 0.6, 0.8, 1], "format": ".1f"}},
                 "y": {"field": "y", "type": "quantitative", "scale": {"domain": [0, 275], "nice": false}, "axis": {"title": null, "values": [0, 50, 100, 150, 200, 250]}},
                 "color": {"field": "s", "type": "nominal", "scale": {"domain": ["K", "u₀*", "p₀*", "p*(T/2)", "p*(T)"], "range": ["black", "#0000ff", "#ff0000", "#ff7f0e", "#ff00ff"]}, "legend": null},
                 "strokeDash": {"field": "s", "type": "nominal", "scale": {"domain": ["K", "u₀*", "p₀*", "p*(T/2)", "p*(T)"], "range": [[3.7, 1.6], [1, 0], [1, 0], [1, 0], [1, 0]]}, "legend": null}
               }},
              {"data": {"name": "c"}, "transform": [{"filter": "datum.d === 'D=0.0005'"}], "mark": {"type": "line", "strokeWidth": 1.7},
               "encoding": {
                 "x": {"field": "x", "type": "quantitative", "scale": {"domain": [0, 1], "nice": false}, "axis": {"title": "x", "values": [0, 0.2, 0.4, 0.6, 0.8, 1], "format": ".1f"}},
                 "y": {"field": "y", "type": "quantitative", "scale": {"domain": [0, 275], "nice": false}, "axis": {"title": null, "values": [0, 50, 100, 150, 200, 250]}},
                 "color": {"field": "s", "type": "nominal", "legend": null},
                 "strokeDash": {"field": "s", "type": "nominal", "legend": null}
               }}
            ]},
            {"data": {"name": "g"}, "mark": {"type": "rule", "color": "#008000", "strokeWidth": 1.1, "strokeDash": [6, 1.6, 1, 1.6]},
             "encoding": {"y": {"field": "v", "type": "quantitative", "scale": {"domain": [0, 1], "nice": false}, "axis": {"orient": "right", "title": null, "values": [0, 0.2, 0.4, 0.6, 0.8, 1], "format": ".1f"}}}}
          ],
          "resolve": {"scale": {"y": "independent"}}
        },
        {
          "title": "D=0.00005", "width": 496, "height": 370,
          "layer": [
            {"layer": [
              {"data": {"name": "k"}, "mark": {"type": "line", "strokeWidth": 1.1},
               "encoding": {
                 "x": {"field": "x", "type": "quantitative", "scale": {"domain": [0, 1], "nice": false}, "axis": {"title": "x", "values": [0, 0.2, 0.4, 0.6, 0.8, 1], "format": ".1f"}},
                 "y": {"field": "y", "type": "quantitative", "scale": {"domain": [0, 275], "nice": false}, "axis": {"title": null, "values": [0, 50, 100, 150, 200, 250]}},
                 "color": {"field": "s", "type": "nominal", "scale": {"domain": ["K", "u₀*", "p₀*", "p*(T/2)", "p*(T)"], "range": ["black", "#0000ff", "#ff0000", "#ff7f0e", "#ff00ff"]}, "legend": null},
                 "strokeDash": {"field": "s", "type": "nominal", "scale": {"domain": ["K", "u₀*", "p₀*", "p*(T/2)", "p*(T)"], "range": [[3.7, 1.6], [1, 0], [1, 0], [1, 0], [1, 0]]}, "legend": null}
               }},
              {"data": {"name": "c"}, "transform": [{"filter": "datum.d === 'D=0.00005'"}], "mark": {"type": "line", "strokeWidth": 1.7},
               "encoding": {
                 "x": {"field": "x", "type": "quantitative", "scale": {"domain": [0, 1], "nice": false}, "axis": {"title": "x", "values": [0, 0.2, 0.4, 0.6, 0.8, 1], "format": ".1f"}},
                 "y": {"field": "y", "type": "quantitative", "scale": {"domain": [0, 275], "nice": false}, "axis": {"title": null, "values": [0, 50, 100, 150, 200, 250]}},
                 "color": {"field": "s", "type": "nominal", "legend": null},
                 "strokeDash": {"field": "s", "type": "nominal", "legend": null}
               }}
            ]},
            {"data": {"name": "g"}, "mark": {"type": "rule", "color": "#008000", "strokeWidth": 1.1, "strokeDash": [6, 1.6, 1, 1.6]},
             "encoding": {"y": {"field": "v", "type": "quantitative", "scale": {"domain": [0, 1], "nice": false}, "axis": {"orient": "right", "title": null, "values": [0, 0.2, 0.4, 0.6, 0.8, 1], "format": ".1f"}}}}
          ],
          "resolve": {"scale": {"y": "independent"}}
        },
        {
          "title": "D=0", "width": 496, "height": 370,
          "layer": [
            {"layer": [
              {"data": {"name": "k"}, "mark": {"type": "line", "strokeWidth": 2},
               "encoding": {
                 "x": {"field": "x", "type": "quantitative", "scale": {"domain": [0, 1], "nice": false}, "axis": {"title": "x", "values": [0, 0.2, 0.4, 0.6, 0.8, 1], "format": ".1f"}},
                 "y": {"field": "y", "type": "quantitative", "scale": {"domain": [0, 275], "nice": false}, "axis": {"title": null, "values": [0, 50, 100, 150, 200, 250]}},
                 "color": {"field": "s", "type": "nominal", "scale": {"domain": ["K", "u₀*", "p₀*", "p*(T/2)", "p*(T)"], "range": ["black", "#0000ff", "#ff0000", "#ff7f0e", "#ff00ff"]}, "legend": {"title": null}},
                 "strokeDash": {"field": "s", "type": "nominal", "scale": {"domain": ["K", "u₀*", "p₀*", "p*(T/2)", "p*(T)"], "range": [[7, 3], [1, 0], [1, 0], [1, 0], [1, 0]]}, "legend": {"title": null}}
               }},
              {"data": {"name": "c"}, "transform": [{"filter": "datum.d === 'D=0'"}], "mark": {"type": "line", "strokeWidth": 2},
               "encoding": {
                 "x": {"field": "x", "type": "quantitative", "scale": {"domain": [0, 1], "nice": false}, "axis": {"title": "x", "values": [0, 0.2, 0.4, 0.6, 0.8, 1], "format": ".1f"}},
                 "y": {"field": "y", "type": "quantitative", "scale": {"domain": [0, 275], "nice": false}, "axis": {"title": null, "values": [0, 50, 100, 150, 200, 250]}},
                 "color": {"field": "s", "type": "nominal", "legend": {"title": null}},
                 "strokeDash": {"field": "s", "type": "nominal", "legend": {"title": null}}
               }}
            ]},
            {"data": {"name": "g"}, "mark": {"type": "rule", "color": "#008000", "strokeWidth": 2, "strokeDash": [12, 3, 2, 3]},
             "encoding": {"y": {"field": "v", "type": "quantitative", "scale": {"domain": [0, 1], "nice": false}, "axis": {"orient": "right", "title": null, "values": [0, 0.2, 0.4, 0.6, 0.8, 1], "format": ".1f"}}}}
          ],
          "resolve": {"scale": {"y": "independent"}}
        }
      ],
      "spacing": 150, "bounds": "flush",
      "resolve": {"scale": {"x": "independent", "y": "independent", "color": "independent", "strokeDash": "independent"}}
    }
  ],
  "spacing": 31, "bounds": "full", "center": true,
  "resolve": {"scale": {"x": "independent", "y": "independent", "color": "independent", "strokeDash": "independent"}}
}
